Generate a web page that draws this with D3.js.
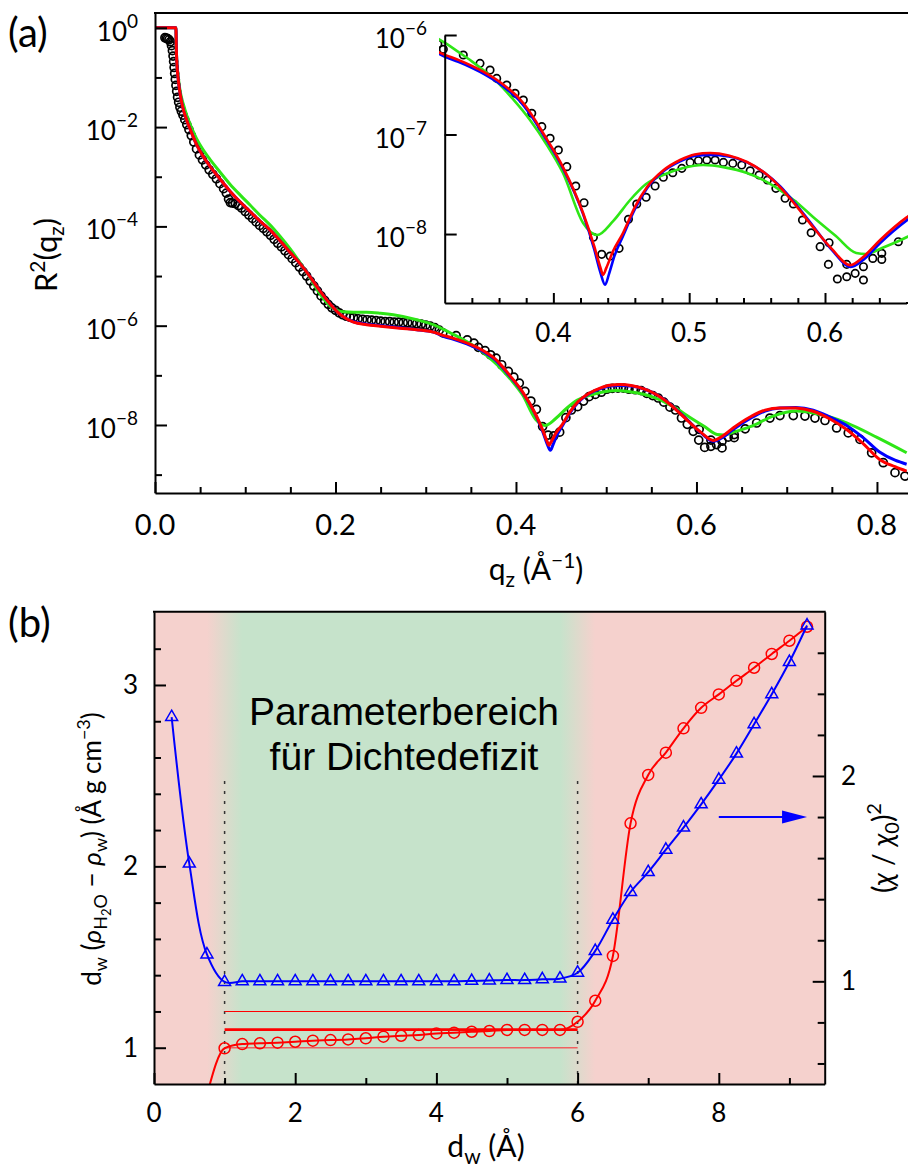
<!DOCTYPE html>
<html><head><meta charset="utf-8">
<script src="https://cdn.jsdelivr.net/npm/d3@7"></script>
<style>
body{margin:0;background:#fff}
svg{display:block}
text{font-family:Lato,'DejaVu Sans',sans-serif;fill:#000}
.ax path,.ax line{stroke:#000;stroke-width:2;fill:none}
</style>
</head><body><svg id="c" width="908" height="1170"></svg>
<script>
// ---------- Panel (a) data: [q (1/Å), log10 R^2] ----------
const dataPts = [
[0.0110,-0.20],[0.0125,-0.21],[0.0140,-0.22],[0.0155,-0.24],[0.0170,-0.28],[0.0183,-0.36],[0.0193,-0.46],[0.0200,-0.57],
[0.0206,-0.68],[0.0212,-0.80],[0.0218,-0.92],[0.0225,-1.04],[0.0232,-1.16],[0.0240,-1.28],[0.0250,-1.40],[0.0262,-1.50],
[0.0276,-1.60],[0.0292,-1.68],[0.0310,-1.76],[0.0330,-1.85],[0.0352,-1.95],[0.0376,-2.05],[0.0402,-2.17],[0.0430,-2.30],
[0.0460,-2.44],[0.0492,-2.56],[0.0526,-2.66],[0.0562,-2.76],[0.0600,-2.86],[0.0640,-2.95],[0.0680,-3.04],[0.0720,-3.14],
[0.0760,-3.24],[0.0790,-3.33],[0.0815,-3.45],[0.0835,-3.52],[0.0860,-3.53],[0.0890,-3.54],[0.0925,-3.58],[0.0960,-3.63],
[0.1000,-3.70],[0.1040,-3.77],[0.1080,-3.84],[0.1120,-3.91],[0.1160,-3.98],[0.1200,-4.04],[0.1240,-4.11],[0.1280,-4.18],
[0.1320,-4.26],[0.1360,-4.34],[0.1400,-4.41],[0.1440,-4.49],[0.1480,-4.57],[0.1520,-4.65],[0.1560,-4.73],[0.1600,-4.82],
[0.1640,-4.91],[0.1680,-5.00],[0.1720,-5.10],[0.1760,-5.20],[0.1800,-5.30],[0.1840,-5.40],[0.1880,-5.49],[0.1920,-5.57],
[0.1960,-5.64],[0.2000,-5.69],[0.2040,-5.74],[0.2080,-5.78],[0.2120,-5.81],[0.2160,-5.83],[0.2200,-5.84],[0.2250,-5.86],
[0.2300,-5.87],[0.2350,-5.88],[0.2400,-5.89],[0.2450,-5.90],[0.2500,-5.91],[0.2550,-5.92],[0.2600,-5.92],[0.2650,-5.93],
[0.2700,-5.93],[0.2750,-5.94],[0.2800,-5.94],[0.2850,-5.95],[0.2900,-5.96],[0.2950,-5.97],[0.3000,-5.99],[0.3050,-6.01],
[0.3100,-6.04],[0.3150,-6.09],
[0.3190,-6.144],[0.3337,-6.201],[0.3460,-6.285],[0.3534,-6.352],[0.3583,-6.436],[0.3657,-6.503],[0.3718,-6.586],
[0.3779,-6.653],[0.3841,-6.787],[0.3915,-6.921],[0.3976,-7.038],[0.4037,-7.156],[0.4099,-7.323],[0.4165,-7.518],
[0.4226,-7.685],[0.4295,-8.033],[0.4356,-8.204],[0.4418,-8.221],[0.4484,-8.144],[0.4553,-7.852],[0.4614,-7.698],
[0.4683,-7.631],[0.4749,-7.518],[0.4810,-7.430],[0.4879,-7.384],[0.4946,-7.340],[0.5007,-7.280],[0.5068,-7.263],
[0.5130,-7.256],[0.5191,-7.256],[0.5252,-7.280],[0.5321,-7.290],[0.5387,-7.307],[0.5449,-7.364],[0.5515,-7.407],
[0.5576,-7.457],[0.5638,-7.541],[0.5706,-7.641],[0.5767,-7.698],[0.5834,-7.859],[0.5898,-7.987],[0.5964,-8.127],
[0.6030,-8.087],[0.6025,-8.305],[0.6091,-8.452],[0.6160,-8.429],[0.6160,-8.305],[0.6222,-8.395],[0.6283,-8.462],
[0.6283,-8.328],[0.6352,-8.245],[0.6418,-8.255],[0.6418,-8.194],[0.6540,-8.077],
[0.6667,-7.96],[0.6814,-7.86],[0.6925,-7.81],[0.7073,-7.81],[0.7202,-7.82],[0.7313,-7.86],[0.7424,-7.91],
[0.7553,-8.06],[0.7682,-8.16],[0.7812,-8.29],[0.7941,-8.56],[0.8070,-8.76],[0.8200,-8.96],[0.8310,-9.03]
];
const redFit = [
[0,0],[0.0232,0],[0.0236,-0.40],[0.0242,-0.70],[0.0258,-1.05],[0.0277,-1.32],[0.0310,-1.62],[0.0351,-1.86],
[0.0400,-2.09],[0.0462,-2.36],[0.0530,-2.58],[0.0609,-2.79],[0.0700,-3.00],[0.0831,-3.29],[0.0950,-3.52],[0.1053,-3.70],
[0.1160,-3.89],[0.1274,-4.07],[0.1390,-4.30],[0.1496,-4.52],[0.1607,-4.75],[0.1717,-5.01],[0.1828,-5.30],[0.1939,-5.56],
[0.2020,-5.72],[0.2087,-5.82],[0.2200,-5.93],[0.2346,-5.98],[0.2500,-6.01],[0.2715,-6.05],[0.2900,-6.08],[0.3084,-6.13],
[0.3202,-6.20],[0.3300,-6.25],[0.3400,-6.31],[0.3500,-6.38],[0.3583,-6.45],[0.3670,-6.54],[0.3750,-6.64],[0.3840,-6.80],
[0.3924,-6.985],[0.4071,-7.327],[0.4219,-7.789],[0.4300,-8.12],
[0.4345,-8.33],[0.4366,-8.41],[0.4390,-8.34],[0.4440,-8.17],[0.4513,-7.99],[0.4600,-7.73],[0.4690,-7.528],[0.4810,-7.36],
[0.4933,-7.256],[0.5040,-7.20],[0.5154,-7.186],[0.5290,-7.21],[0.5426,-7.276],[0.5550,-7.38],[0.5669,-7.528],[0.5790,-7.72],
[0.5912,-7.93],[0.6050,-8.15],[0.6185,-8.312],[0.6290,-8.22],[0.6406,-8.06],[0.6604,-7.83],[0.6760,-7.70],[0.6925,-7.656],
[0.7100,-7.66],[0.7294,-7.724],[0.7480,-7.88],[0.7664,-8.09],[0.7850,-8.38],[0.8033,-8.70],[0.8200,-8.84],[0.8329,-8.93]
];
const blueFit = [
[0,0],[0.0232,0],[0.0236,-0.40],[0.0242,-0.70],[0.0258,-1.05],[0.0277,-1.32],[0.0310,-1.62],[0.0351,-1.86],
[0.0400,-2.09],[0.0462,-2.36],[0.0530,-2.58],[0.0609,-2.79],[0.0700,-3.00],[0.0831,-3.29],[0.0950,-3.52],[0.1053,-3.70],
[0.1160,-3.89],[0.1274,-4.07],[0.1390,-4.30],[0.1496,-4.52],[0.1607,-4.75],[0.1717,-5.01],[0.1828,-5.30],[0.1939,-5.56],
[0.2020,-5.72],[0.2087,-5.82],[0.2200,-5.92],[0.2346,-5.97],[0.2500,-6.00],[0.2715,-6.04],[0.2900,-6.08],[0.3084,-6.13],
[0.3202,-6.22],[0.3300,-6.27],[0.3400,-6.33],[0.3500,-6.40],[0.3583,-6.47],[0.3670,-6.56],[0.3750,-6.66],[0.3840,-6.82],
[0.3924,-7.00],[0.4071,-7.34],[0.4219,-7.80],[0.4300,-8.15],
[0.4345,-8.38],[0.4381,-8.51],[0.4410,-8.40],[0.4450,-8.22],[0.4513,-8.02],[0.4600,-7.75],[0.4690,-7.54],[0.4810,-7.37],
[0.4933,-7.27],[0.5040,-7.215],[0.5154,-7.206],[0.5290,-7.22],[0.5426,-7.28],[0.5550,-7.38],[0.5669,-7.52],[0.5790,-7.71],
[0.5912,-7.92],[0.6050,-8.16],[0.6190,-8.33],[0.6290,-8.25],[0.6406,-8.09],[0.6604,-7.86],[0.6760,-7.72],[0.6925,-7.66],
[0.7100,-7.65],[0.7294,-7.70],[0.7480,-7.84],[0.7664,-8.01],[0.7850,-8.26],[0.8033,-8.55],[0.8200,-8.71],[0.8329,-8.79]
];
const greenFit = [
[0,0],[0.0232,0],[0.0236,-0.40],[0.0242,-0.70],[0.0258,-1.00],[0.0277,-1.26],[0.0314,-1.54],[0.0351,-1.76],
[0.0400,-1.99],[0.0462,-2.24],[0.0530,-2.45],[0.0609,-2.65],[0.0700,-2.86],[0.0831,-3.15],[0.0950,-3.38],[0.1053,-3.57],
[0.1160,-3.77],[0.1274,-3.97],[0.1390,-4.21],[0.1496,-4.45],[0.1607,-4.73],[0.1717,-5.03],[0.1828,-5.36],[0.1939,-5.60],
[0.2020,-5.69],[0.2087,-5.72],[0.2200,-5.73],[0.2346,-5.73],[0.2500,-5.75],[0.2641,-5.78],[0.2900,-5.88],[0.3084,-5.98],
[0.3202,-6.08],[0.3300,-6.17],[0.3400,-6.265],[0.3500,-6.37],[0.3585,-6.47],[0.3700,-6.64],[0.3828,-6.854],
[0.3950,-7.10],[0.4071,-7.387],[0.4219,-7.889],[0.4322,-8.01],[0.4440,-7.87],
[0.4565,-7.658],[0.4680,-7.50],[0.4808,-7.407],[0.4950,-7.34],[0.5102,-7.307],[0.5260,-7.33],[0.5426,-7.387],[0.5550,-7.46],
[0.5669,-7.558],[0.5790,-7.68],[0.5912,-7.829],[0.6080,-8.02],[0.6230,-8.19],[0.6300,-8.20],[0.6420,-8.14],[0.6604,-8.03],
[0.6850,-7.82],[0.7110,-7.72],[0.7294,-7.757],[0.7480,-7.84],[0.7664,-7.958],[0.8000,-8.25],[0.8329,-8.56]
];
const aXMajor=[0,0.2,0.4,0.6,0.8], aXMinor=[0.05,0.1,0.15,0.25,0.3,0.35,0.45,0.5,0.55,0.65,0.7,0.75];
const aYMajorExp=[0,-2,-4,-6,-8], aYMinorExp=[-1,-3,-5,-7,-9];
const insXMajor=[0.4,0.5,0.6], insXMinor=[0.34,0.36,0.38,0.42,0.44,0.46,0.48,0.52,0.54,0.56,0.58,0.62,0.64];
const insYExp=[-6,-7,-8];

// ---------- Panel (b) data ----------
const dwVals=[0.25,0.5,0.75,1,1.25,1.5,1.75,2,2.25,2.5,2.75,3,3.25,3.5,3.75,4,4.25,4.5,4.75,5,5.25,5.5,5.75,6,6.25,6.5,6.75,7,7.25,7.5,7.75,8,8.25,8.5,8.75,9,9.25];
const chiSq=[2.287,1.573,1.131,0.997,1.0,1.0,1.0,1.0,1.0,1.0,1.0,1.0,1.0,1.0,1.0,1.0,1.0,1.002,1.004,1.006,1.006,1.010,1.013,1.042,1.148,1.30,1.435,1.532,1.641,1.749,1.862,1.982,2.109,2.252,2.398,2.555,2.733];
const redDw=[1,1.25,1.5,1.75,2,2.25,2.5,2.75,3,3.25,3.5,3.75,4,4.25,4.5,4.75,5,5.25,5.5,5.75,6,6.25,6.5,6.75,7,7.25,7.5,7.75,8,8.25,8.5,8.75,9,9.25];
const deficit=[0.997,1.02,1.024,1.028,1.033,1.039,1.042,1.046,1.052,1.061,1.066,1.07,1.079,1.083,1.088,1.092,1.098,1.098,1.098,1.098,1.143,1.259,1.506,2.237,2.504,2.627,2.761,2.874,2.948,3.023,3.095,3.171,3.244,3.321];
const redLineLead=[[0.75,0.74]];
const hLines=[{v:1.0,w:1.3,c:'#f06060'},{v:1.1,w:2.6,c:'#ff0000'},{v:1.2,w:1.1,c:'#ff0000'}];
const rangeBounds=[1,6];
const bXMajor=[0,2,4,6,8], bXMinor=[1,3,5,7,9];
const bLMajor=[1,2,3], bLMinor=[1.2,1.4,1.6,1.8,2.2,2.4,2.6,2.8,3.2];
const bRMajor=[1,2], bRMinor=[0.6,0.8,1.2,1.4,1.6,1.8,2.2,2.4,2.6];

const svg=d3.select('#c');
const defs=svg.append('defs');
const pw=v=>Math.pow(10,v);

function rich(sel, parts){ let cur=0; parts.forEach(([t,off,fs,st])=>{ const ts=sel.append('tspan').attr('dy',off-cur).attr('font-size',fs).text(t); if(st) ts.attr('font-style',st); cur=off;}); return sel; }

// ===== Panel (a) =====
const xA=d3.scaleLinear().domain([0,0.8344]).range([155,908]);
const yA=d3.scaleLog().domain([pw(-9.37),pw(0.298)]).range([493,13]);
const xI=d3.scaleLinear().domain([0.32,0.66]).range([444.7,906.5]);
const yI=d3.scaleLog().domain([pw(-8.693),1e-6]).range([303,35]);

defs.append('clipPath').attr('id','clipA').append('rect').attr('x',155).attr('y',13).attr('width',753).attr('height',480);
defs.append('clipPath').attr('id','clipI').append('rect').attr('x',439).attr('y',20).attr('width',469).attr('height',283);

const gA=svg.append('g').attr('clip-path','url(#clipA)');
const lineA=d3.line().x(d=>xA(d[0])).y(d=>yA(pw(d[1]))).curve(d3.curveMonotoneX);
gA.selectAll('circle').data(dataPts).join('circle').attr('cx',d=>xA(d[0])).attr('cy',d=>yA(pw(d[1]))).attr('r',4).attr('fill','none').attr('stroke','#000').attr('stroke-width',1.7);
[[greenFit,'#2ee616'],[blueFit,'#0000ff'],[redFit,'#ff0000']].forEach(([d,c])=>gA.append('path').datum(d).attr('d',lineA).attr('fill','none').attr('stroke',c).attr('stroke-width',3));

// axes a
const axA=svg.append('g').attr('class','ax');
axA.append('g').attr('transform','translate(0,493)').call(d3.axisBottom(xA).tickValues(aXMajor).tickSize(-11).tickSizeOuter(0).tickFormat(''));
axA.append('g').attr('transform','translate(0,493)').call(d3.axisBottom(xA).tickValues(aXMinor).tickSize(-6).tickSizeOuter(0).tickFormat('')).select('.domain').remove();
axA.append('g').attr('transform','translate(155,0)').call(d3.axisLeft(yA).tickValues(aYMajorExp.map(pw)).tickSize(-12).tickSizeOuter(0).tickFormat(''));
axA.append('g').attr('transform','translate(155,0)').call(d3.axisLeft(yA).tickValues(aYMinorExp.map(pw)).tickSize(-7).tickSizeOuter(0).tickFormat('')).select('.domain').remove();
axA.append('line').attr('x1',154).attr('x2',908).attr('y1',13).attr('y2',13);
svg.append('g').selectAll('text').data(aXMajor).join('text').attr('x',d=>xA(d)).attr('y',535).attr('text-anchor','middle').attr('font-size',29).text(d3.format('.1f'));
aYMajorExp.forEach(e=>{ rich(svg.append('text').attr('x',138).attr('y',yA(pw(e))+13).attr('text-anchor','end'),[['10',0,26],[e===0?'0':'\u2212'+(-e),-13,19]]); });

// inset
const gI=svg.append('g').attr('clip-path','url(#clipI)');
const lineI=d3.line().x(d=>xI(d[0])).y(d=>yI(pw(d[1]))).curve(d3.curveMonotoneX);
const insData=dataPts.filter(d=>d[0]>0.30&&d[0]<0.68);
gI.selectAll('circle').data(insData).join('circle').attr('cx',d=>xI(d[0])).attr('cy',d=>yI(pw(d[1]))).attr('r',3.7).attr('fill','none').attr('stroke','#000').attr('stroke-width',1.7);
[[greenFit,'#2ee616'],[blueFit,'#0000ff'],[redFit,'#ff0000']].forEach(([d,c])=>gI.append('path').datum(d.filter(p=>p[0]>0.29&&p[0]<0.7)).attr('d',lineI).attr('fill','none').attr('stroke',c).attr('stroke-width',2.6));
const axI=svg.append('g').attr('class','ax');
axI.append('g').attr('transform','translate(0,303)').call(d3.axisBottom(xI).tickValues(insXMajor).tickSize(-10).tickSizeOuter(0).tickFormat(''));
axI.append('g').attr('transform','translate(0,303)').call(d3.axisBottom(xI).tickValues(insXMinor).tickSize(-5).tickSizeOuter(0).tickFormat('')).select('.domain').remove();
axI.append('line').attr('x1',906).attr('x2',908).attr('y1',303).attr('y2',303);
axI.append('g').attr('transform','translate(444.7,0)').call(d3.axisLeft(yI).tickValues(insYExp.map(pw)).tickSize(-12).tickSizeOuter(0).tickFormat(''));
svg.append('g').selectAll('text').data(insXMajor).join('text').attr('x',d=>xI(d)).attr('y',342).attr('text-anchor','middle').attr('font-size',26).text(d3.format('.1f'));
insYExp.forEach(e=>{ rich(svg.append('text').attr('x',427).attr('y',yI(pw(e))+13).attr('text-anchor','end'),[['10',0,26],['\u2212'+(-e),-13,19]]); });

// labels a
svg.append('text').attr('x',8).attr('y',47).attr('font-size',40).text('(a)');
rich(svg.append('text').attr('transform','translate(57,255) rotate(-90)').attr('text-anchor','middle'),[['R',0,31],['2',-12,21],['(q',0,31],['z',7,21],[')',0,31]]);
rich(svg.append('text').attr('x',536).attr('y',580).attr('text-anchor','middle'),[['q',0,30],['z',7,21],[' (Å',0,30],['\u22121',-12,21],[')',0,30]]);

// ===== Panel (b) =====
const xB=d3.scaleLinear().domain([0,9.5]).range([154,824.7]);
const yL=d3.scaleLinear().domain([0.8,3.404]).range([1084,611.7]);
const yR=d3.scaleLinear().domain([0.5,2.8]).range([1084,611.7]);
const pink='#f5d1cd', green='#c6e3cb';
const grad=defs.append('linearGradient').attr('id','bgGrad').attr('gradientUnits','userSpaceOnUse').attr('x1',xB(0)).attr('x2',xB(9.5)).attr('y1',0).attr('y2',0);
[[0,pink],[rangeBounds[0]-0.25,pink],[rangeBounds[0]+0.25,green],[rangeBounds[1]-0.25,green],[rangeBounds[1]+0.25,pink],[9.5,pink]].forEach(([v,c])=>grad.append('stop').attr('offset',v/9.5).attr('stop-color',c));
svg.append('rect').attr('x',xB(0)).attr('y',yL(3.404)).attr('width',xB(9.5)-xB(0)).attr('height',yL(0.8)-yL(3.404)).attr('fill','url(#bgGrad)');
defs.append('clipPath').attr('id','clipB').append('rect').attr('x',xB(0)).attr('y',yL(3.404)).attr('width',xB(9.5)-xB(0)).attr('height',yL(0.8)-yL(3.404));
const gB=svg.append('g').attr('clip-path','url(#clipB)');
rangeBounds.forEach(v=>gB.append('line').attr('x1',xB(v)).attr('x2',xB(v)).attr('y1',yL(2.47)).attr('y2',yL(0.8)).attr('stroke','#333').attr('stroke-width',1.5).attr('stroke-dasharray','3,7'));
hLines.forEach(h=>gB.append('line').attr('x1',xB(rangeBounds[0])).attr('x2',xB(rangeBounds[1])).attr('y1',yL(h.v)).attr('y2',yL(h.v)).attr('stroke',h.c).attr('stroke-width',h.w));
const redPts=redDw.map((x,i)=>[x,deficit[i]]);
gB.append('path').datum(redLineLead.concat(redPts)).attr('d',d3.line().x(d=>xB(d[0])).y(d=>yL(d[1])).curve(d3.curveMonotoneX)).attr('fill','none').attr('stroke','#ff0000').attr('stroke-width',2);
gB.selectAll('circle.r').data(redPts).join('circle').attr('class','r').attr('cx',d=>xB(d[0])).attr('cy',d=>yL(d[1])).attr('r',5.5).attr('fill','none').attr('stroke','#ff0000').attr('stroke-width',1.5);
const bluePts=dwVals.map((x,i)=>[x,chiSq[i]]);
gB.append('path').datum(bluePts).attr('d',d3.line().x(d=>xB(d[0])).y(d=>yR(d[1])).curve(d3.curveCatmullRom)).attr('fill','none').attr('stroke','#0000ff').attr('stroke-width',2);
const tri=d3.symbol().type(d3.symbolTriangle).size(62);
gB.selectAll('path.t').data(bluePts).join('path').attr('class','t').attr('transform',d=>`translate(${xB(d[0])},${yR(d[1])})`).attr('d',tri).attr('fill','none').attr('stroke','#0000ff').attr('stroke-width',1.5);
// arrow
const arrow={x0:8.0,x1:9.25,v:1.8};
gB.append('line').attr('x1',xB(arrow.x0)).attr('x2',xB(arrow.x1)-24).attr('y1',yR(arrow.v)).attr('y2',yR(arrow.v)).attr('stroke','#0000ff').attr('stroke-width',2);
gB.append('path').attr('d',`M${xB(arrow.x1)-25},${yR(arrow.v)-6.5}L${xB(arrow.x1)},${yR(arrow.v)}L${xB(arrow.x1)-25},${yR(arrow.v)+6.5}Z`).attr('fill','#0000ff');

// text in panel
const tg=svg.append('g').attr('text-anchor','middle');
tg.append('text').attr('x',404).attr('y',725).attr('font-size',39).style('font-family','"Liberation Sans",Arial,sans-serif').text('Parameterbereich');
tg.append('text').attr('x',404).attr('y',770).attr('font-size',39).style('font-family','"Liberation Sans",Arial,sans-serif').text('für Dichtedefizit');

// axes b
const axB=svg.append('g').attr('class','ax');
axB.append('g').attr('transform','translate(0,1084)').call(d3.axisBottom(xB).tickValues(bXMajor).tickSize(-11).tickSizeOuter(0).tickFormat(''));
axB.append('g').attr('transform','translate(0,1084)').call(d3.axisBottom(xB).tickValues(bXMinor).tickSize(-6).tickSizeOuter(0).tickFormat('')).select('.domain').remove();
axB.append('g').attr('transform','translate(154,0)').call(d3.axisLeft(yL).tickValues(bLMajor).tickSize(-12).tickSizeOuter(0).tickFormat(''));
axB.append('g').attr('transform','translate(154,0)').call(d3.axisLeft(yL).tickValues(bLMinor).tickSize(-7).tickSizeOuter(0).tickFormat('')).select('.domain').remove();
axB.append('g').attr('transform','translate(824.7,0)').call(d3.axisRight(yR).tickValues(bRMajor).tickSize(-12).tickSizeOuter(0).tickFormat(''));
axB.append('g').attr('transform','translate(824.7,0)').call(d3.axisRight(yR).tickValues(bRMinor).tickSize(-7).tickSizeOuter(0).tickFormat('')).select('.domain').remove();
axB.append('line').attr('x1',153).attr('x2',825.7).attr('y1',611.7).attr('y2',611.7);
svg.append('g').selectAll('text').data(bXMajor).join('text').attr('x',d=>xB(d)).attr('y',1122).attr('text-anchor','middle').attr('font-size',26).text(d=>d);
svg.append('g').selectAll('text').data(bLMajor).join('text').attr('x',138).attr('y',d=>yL(d)+9).attr('text-anchor','end').attr('font-size',26).text(d=>d);
svg.append('g').selectAll('text').data(bRMajor).join('text').attr('x',841).attr('y',d=>yR(d)+9).attr('text-anchor','start').attr('font-size',26).text(d=>d);

svg.append('text').attr('x',8).attr('y',637).attr('font-size',40).text('(b)');
rich(svg.append('text').attr('x',486).attr('y',1157).attr('text-anchor','middle'),[['d',0,30],['w',7,21],[' (Å)',0,30]]);
rich(svg.append('text').attr('transform','translate(101,849) rotate(-90)').attr('text-anchor','middle'),
 [['d',0,26],['w',6,18],[' (',0,26],['ρ',0,26,'italic'],['H',6,18],['2',10,13],['O',6,18],[' \u2212 ',0,26],['ρ',0,26,'italic'],['w',6,18],[') (Å g cm',0,26],['\u22123',-11,18],[')',0,26]]);
rich(svg.append('text').attr('transform','translate(893,848) rotate(-90)').attr('text-anchor','middle'),
 [['(',0,28],['χ',0,28,'italic'],[' / ',0,28],['χ',0,28,'italic'],['0',6,20],[')',0,28],['2',-12,20]]);
</script></body></html>
